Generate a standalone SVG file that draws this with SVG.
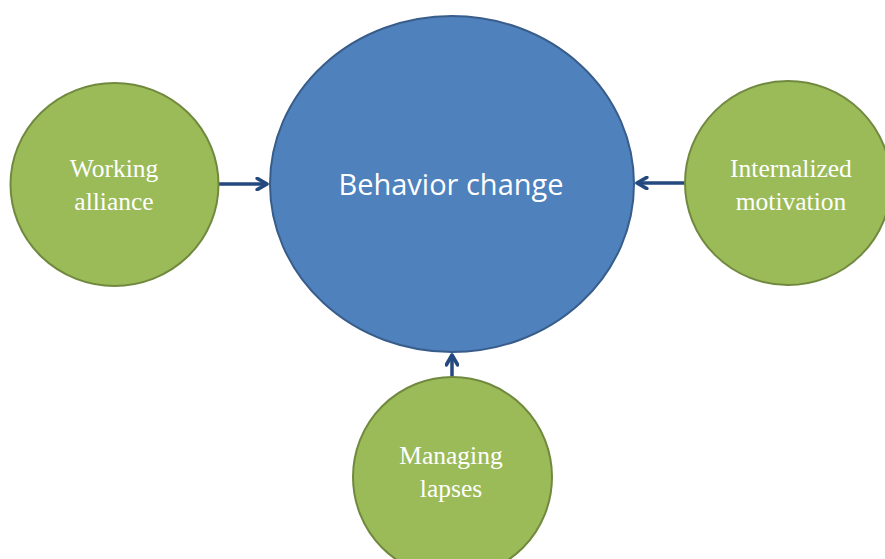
<svg xmlns="http://www.w3.org/2000/svg" width="885" height="559" viewBox="0 0 885 559">
<style>
.g{fill:#9BBB59;stroke:#71893F;stroke-width:2}
.b{fill:#4F81BD;stroke:#385D8A;stroke-width:2}
.t{font-family:"Liberation Serif",serif;font-size:25.5px;fill:#fff;text-anchor:middle}
.m{font-family:"Open Sans","Liberation Sans",sans-serif;font-size:29px;fill:#fff;text-anchor:middle}
.c{stroke:#23497E;stroke-width:3.5;fill:none}
</style>
<defs>
<marker id="ah" viewBox="0 0 10 10" refX="8.5" refY="5" markerWidth="4" markerHeight="4" orient="auto" markerUnits="strokeWidth">
<path d="M1.5,1 L8.5,5 L1.5,9" fill="none" stroke="#23497E" stroke-width="2.6" stroke-linecap="round" stroke-linejoin="round"/>
</marker>
</defs>
<g id="connectors">
<line class="c" x1="219" y1="184" x2="267" y2="184" marker-end="url(#ah)"/>
<line class="c" x1="686" y1="183" x2="637" y2="183" marker-end="url(#ah)"/>
<line class="c" x1="452" y1="377" x2="452" y2="355" marker-end="url(#ah)"/>
</g>
<g id="behavior">
<ellipse class="b" cx="452" cy="184" rx="182" ry="168"/>
<text class="m" x="451" y="195">Behavior change</text>
</g>
<g id="working">
<ellipse class="g" cx="114.5" cy="184.5" rx="104" ry="101.5"/>
<text class="t" x="114" y="177">Working</text>
<text class="t" x="114" y="210">alliance</text>
</g>
<g id="internalized">
<ellipse class="g" cx="788" cy="183" rx="103" ry="102"/>
<text class="t" x="791" y="177">Internalized</text>
<text class="t" x="791" y="210">motivation</text>
</g>
<g id="managing">
<ellipse class="g" cx="452.5" cy="477" rx="99.5" ry="100"/>
<text class="t" x="451" y="464">Managing</text>
<text class="t" x="451" y="497">lapses</text>
</g>
</svg>
